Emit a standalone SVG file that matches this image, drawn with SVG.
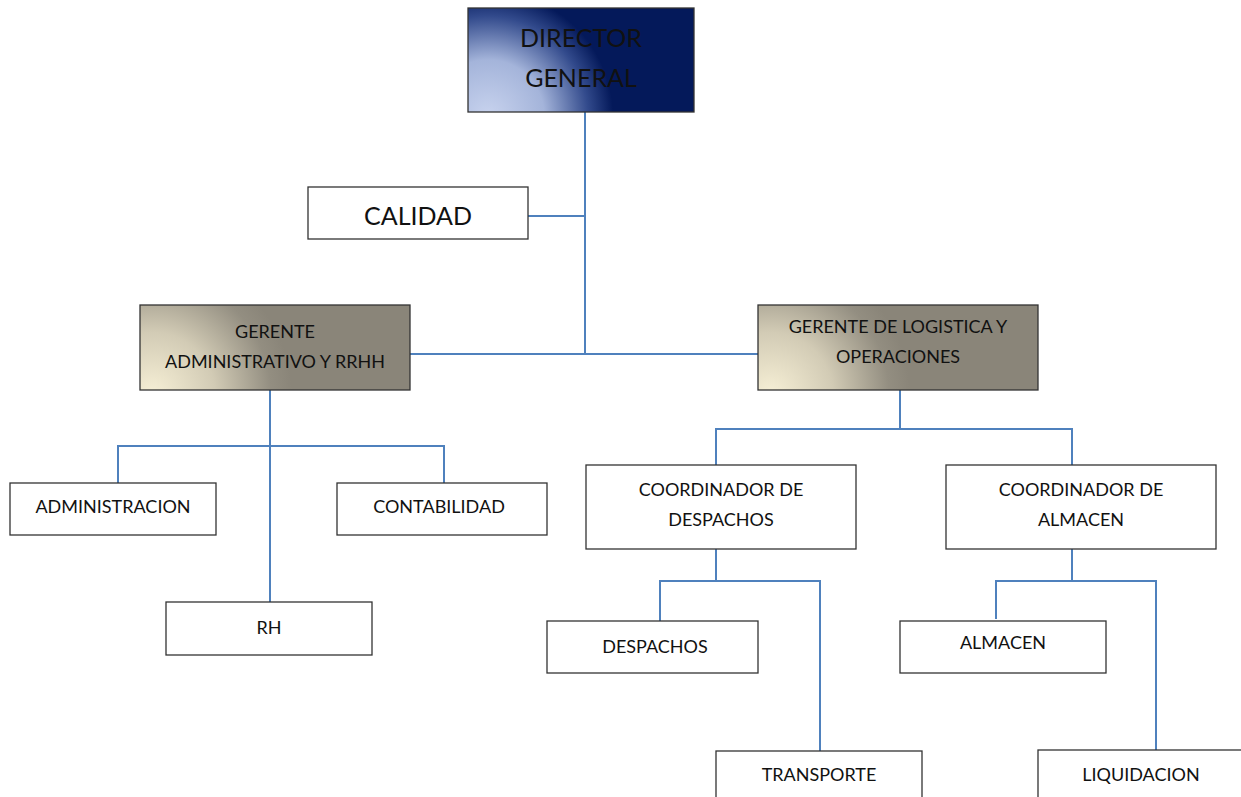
<svg xmlns="http://www.w3.org/2000/svg" width="1241" height="797" viewBox="0 0 1241 797">
  <defs>
    <radialGradient id="navyFill" gradientUnits="userSpaceOnUse" cx="488" cy="116" r="125">
      <stop offset="0" stop-color="#c8d3ee"/>
      <stop offset="0.45" stop-color="#a4b4da"/>
      <stop offset="0.8" stop-color="#324a8c"/>
      <stop offset="1" stop-color="#04195a"/>
    </radialGradient>
    <radialGradient id="taupeFillA" gradientUnits="userSpaceOnUse" cx="152" cy="395" r="140">
      <stop offset="0" stop-color="#f7f0d6"/>
      <stop offset="0.45" stop-color="#d2cbb5"/>
      <stop offset="0.85" stop-color="#938e81"/>
      <stop offset="1" stop-color="#8a8579"/>
    </radialGradient>
    <radialGradient id="taupeFillB" gradientUnits="userSpaceOnUse" cx="770" cy="395" r="140">
      <stop offset="0" stop-color="#f7f0d6"/>
      <stop offset="0.45" stop-color="#d2cbb5"/>
      <stop offset="0.85" stop-color="#938e81"/>
      <stop offset="1" stop-color="#8a8579"/>
    </radialGradient>
  </defs>
  <style>
    .box { fill: #ffffff; stroke: #333333; stroke-width: 1.3; }
    .head { stroke: #333333; stroke-width: 1.3; }
    .lbl { font-family: Lato, "Open Sans", "Liberation Sans", sans-serif; fill: #111111; text-anchor: middle; font-size: 18px; }
    .big { font-size: 25px; }
    .link { fill: none; stroke: #4f81bd; stroke-width: 2; }
  </style>
  <rect width="1241" height="797" fill="#ffffff"/>

  <g id="connectors">
    <path class="link" d="M585 112 V354"/>
    <path class="link" d="M528 216 H585"/>
    <path class="link" d="M410 354 H758"/>
    <path class="link" d="M270 390 V602"/>
    <path class="link" d="M118 483 V446 H444 V483"/>
    <path class="link" d="M900 390 V429"/>
    <path class="link" d="M716 465 V429 H1072 V465"/>
    <path class="link" d="M716 549 V581"/>
    <path class="link" d="M660 621 V581 H820 V751"/>
    <path class="link" d="M1072 549 V581"/>
    <path class="link" d="M996 619 V581 H1156 V750"/>
  </g>

  <g id="director-general">
    <rect class="head" fill="url(#navyFill)" x="468" y="8" width="226" height="104"/>
    <text class="lbl big" x="581" y="47">DIRECTOR</text>
    <text class="lbl big" x="581" y="87">GENERAL</text>
  </g>

  <g id="calidad">
    <rect class="box" x="308" y="187" width="220" height="52"/>
    <text class="lbl big" x="418" y="225">CALIDAD</text>
  </g>

  <g id="gerente-administrativo">
    <rect class="head" fill="url(#taupeFillA)" x="140" y="305" width="270" height="85"/>
    <text class="lbl" x="275" y="338">GERENTE</text>
    <text class="lbl" x="275" y="368">ADMINISTRATIVO Y RRHH</text>
  </g>

  <g id="gerente-logistica">
    <rect class="head" fill="url(#taupeFillB)" x="758" y="305" width="280" height="85"/>
    <text class="lbl" x="898" y="333">GERENTE DE LOGISTICA Y</text>
    <text class="lbl" x="898" y="363">OPERACIONES</text>
  </g>

  <g id="administracion">
    <rect class="box" x="10" y="483" width="206" height="52"/>
    <text class="lbl" x="113" y="513">ADMINISTRACION</text>
  </g>

  <g id="contabilidad">
    <rect class="box" x="337" y="483" width="210" height="52"/>
    <text class="lbl" x="439" y="513">CONTABILIDAD</text>
  </g>

  <g id="rh">
    <rect class="box" x="166" y="602" width="206" height="53"/>
    <text class="lbl" x="269" y="634">RH</text>
  </g>

  <g id="coordinador-despachos">
    <rect class="box" x="586" y="465" width="270" height="84"/>
    <text class="lbl" x="721" y="496">COORDINADOR DE</text>
    <text class="lbl" x="721" y="526">DESPACHOS</text>
  </g>

  <g id="coordinador-almacen">
    <rect class="box" x="946" y="465" width="270" height="84"/>
    <text class="lbl" x="1081" y="496">COORDINADOR DE</text>
    <text class="lbl" x="1081" y="526">ALMACEN</text>
  </g>

  <g id="despachos">
    <rect class="box" x="547" y="621" width="211" height="52"/>
    <text class="lbl" x="655" y="653">DESPACHOS</text>
  </g>

  <g id="almacen">
    <rect class="box" x="900" y="621" width="206" height="52"/>
    <text class="lbl" x="1003" y="649">ALMACEN</text>
  </g>

  <g id="transporte">
    <rect class="box" x="716" y="751" width="206" height="60"/>
    <text class="lbl" x="819" y="781">TRANSPORTE</text>
  </g>

  <g id="liquidacion">
    <rect class="box" x="1038" y="750" width="220" height="60"/>
    <text class="lbl" x="1141" y="781">LIQUIDACION</text>
  </g>
</svg>
